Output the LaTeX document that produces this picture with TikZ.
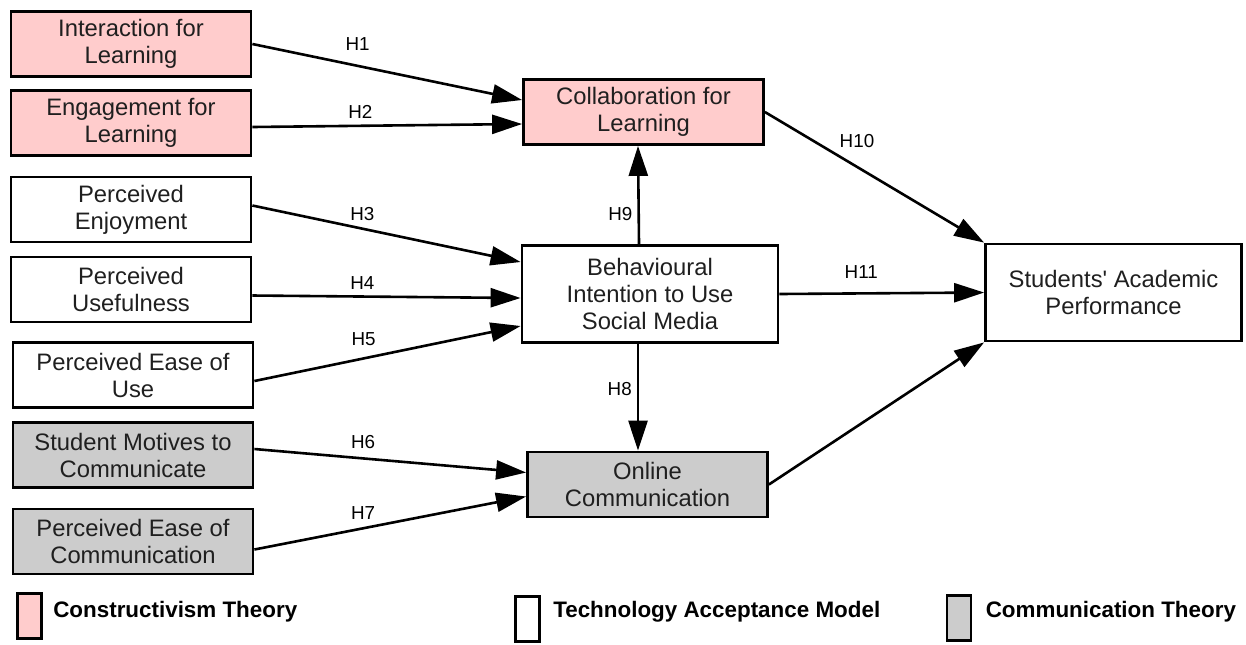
\documentclass[tikz,border=0pt]{standalone}
\usepackage{fontspec}
\setmainfont{Liberation Sans}
\usetikzlibrary{arrows.meta, positioning}

\definecolor{pinkbox}{HTML}{FFCCCC}
\definecolor{greybox}{HTML}{CCCCCC}

\begin{document}
\begin{tikzpicture}[x=0.5pt, y=-0.5pt, >={Triangle[length=15pt, width=9.5pt]},
    box/.style={draw, line width=1.4pt, align=center, inner sep=2pt, text=black!88,
        font=\fontsize{11.9}{13.5}\selectfont},
    smallbox/.style={box, minimum width=120pt, minimum height=32.5pt},
    bigbox/.style={box, minimum width=128pt, minimum height=48.5pt},
    link/.style={->, line width=1.3pt},
    hyp/.style={inner sep=0pt, font=\fontsize{9.4}{10}\selectfont},
    legbox/.style={draw, line width=1.4pt, inner sep=0pt, minimum width=12pt, minimum height=22.5pt},
    legtext/.style={inner sep=0pt, font=\bfseries\fontsize{11.2}{13}\selectfont}]
    \useasboundingbox (0,0) rectangle (1246,644);

    % antecedents on the left
    \node[smallbox, fill=pinkbox] (inter) at (131,44) {Interaction for\\Learning};
    \node[smallbox, fill=pinkbox] (engage) at (131,123) {Engagement for\\Learning};
    \node[smallbox] (enjoy) at (131,209.5) {Perceived\\Enjoyment};
    \node[smallbox] (useful) at (131,289.5) {Perceived\\Usefulness};
    \node[smallbox] (easeuse) at (133,375) {Perceived Ease of\\Use};
    \node[smallbox, fill=greybox] (motive) at (133,455) {Student Motives to\\Communicate};
    \node[smallbox, fill=greybox] (easecom) at (133,541.5) {Perceived Ease of\\Communication};

    % mediators and outcome
    \node[smallbox, fill=pinkbox] (collab) at (643.5,112) {Collaboration for\\Learning};
    \node[bigbox] (intent) at (650,294) {Behavioural\\Intention to Use\\Social Media};
    \node[smallbox, fill=greybox] (online) at (647.5,484.5) {Online\\Communication};
    \node[bigbox] (perf) at (1113.5,292.5) {Students\textquotesingle\ Academic\\Performance};

    % hypotheses
    \draw[link] (inter.east) -- ([yshift=6pt]collab.west) node[hyp, pos=.39, above=6.8pt] (h1) {H1};
    \draw[link] ([yshift=-2pt]engage.east) -- ([yshift=-6pt]collab.west) node[hyp, pos=.4, above=3.2pt] (h2) {H2};
    \draw[link] ([yshift=2pt]enjoy.east) -- ([yshift=16pt]intent.west) node[hyp, pos=.41, above=3.5pt] (h3) {H3};
    \draw[link] ([yshift=-3pt]useful.east) -- ([yshift=-2pt]intent.west) node[hyp, pos=.41, above=2.7pt] (h4) {H4};
    \draw[link] ([yshift=-3pt]easeuse.east) -- ([yshift=-16pt]intent.west) node[hyp, pos=.41, above=5.6pt] (h5) {H5};
    \draw[link] ([yshift=3pt]motive.east) -- ([yshift=6pt]online.west) node[hyp, pos=.4, above=4.4pt] (h6) {H6};
    \draw[link] ([yshift=-4pt]easecom.east) -- ([yshift=-6pt]online.west) node[hyp, pos=.4, above=3.9pt] (h7) {H7};
    \draw[link] ([xshift=-6pt]intent.south) -- ([xshift=-4.75pt]online.north) node[hyp, pos=.42, left=2.5pt] (h8) {H8};
    \draw[link] ([xshift=-5.5pt]intent.north) -- ([xshift=-2.75pt]collab.south) node[hyp, pos=.31, left=2.5pt] (h9) {H9};
    \draw[link] (collab.east) -- (perf.north west) node[hyp, pos=.42, above=9pt] (h10) {H10};
    \draw[link] (intent.east) -- (perf.west) node[hyp, pos=.4, above=6.8pt] (h11) {H11};
    \draw[link] (online.east) -- (perf.south west);

    % legend
    \node[legbox, fill=pinkbox] (legcon) at (29.5,616) {};
    \node[legtext, right=5pt of legcon, yshift=2pt] (legcontext) {Constructivism Theory};
    \node[legbox] (legtam) at (527.5,619) {};
    \node[legtext, right=6pt of legtam, yshift=3.5pt] (legtamtext) {Technology Acceptance Model};
    \node[legbox, fill=greybox] (legcom) at (959,618) {};
    \node[legtext, right=6.5pt of legcom, yshift=3pt] (legcomtext) {Communication Theory};
\end{tikzpicture}
\end{document}
